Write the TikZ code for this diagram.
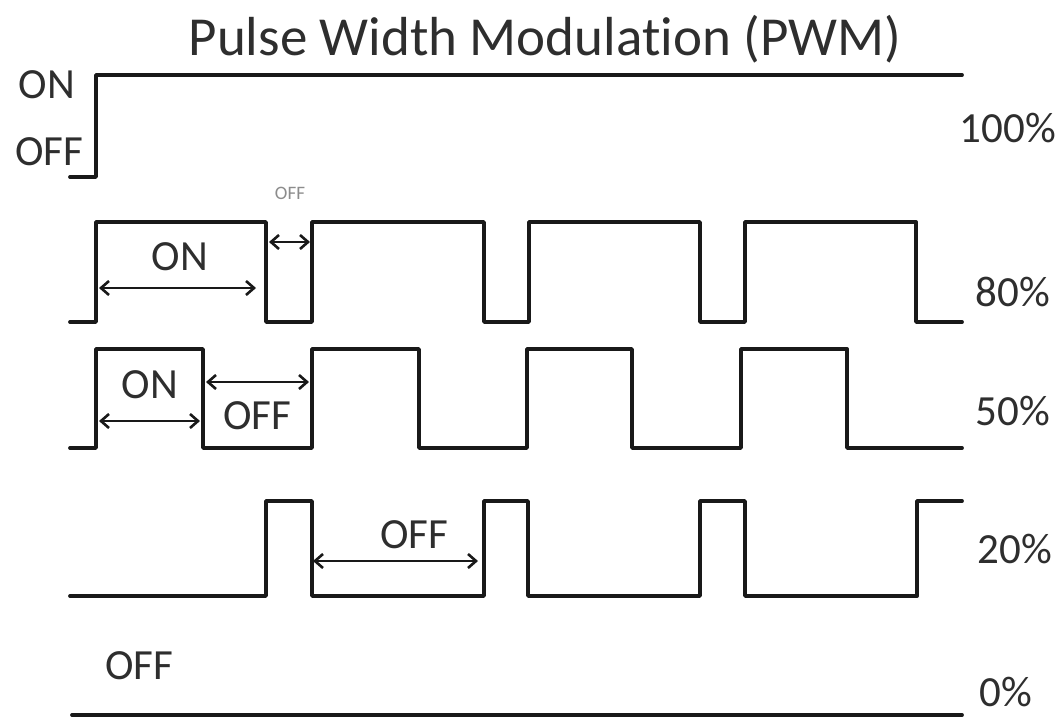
\documentclass[tikz,border=0pt]{standalone}
\usepackage{fontspec}
\setmainfont{Carlito}[Ligatures=NoCommon]
\usetikzlibrary{arrows.meta}
\begin{document}
\begin{tikzpicture}[x=1pt,y=-1pt,
  wave/.style={line width=3.8pt, line join=round, line cap=round, black!90},
  dim/.style={line width=2.6pt, black!90, {Straight Barb[length=8pt,width=14pt]}-{Straight Barb[length=8pt,width=14pt]}},
  lbl/.style={font=\fontsize{43}{46}\selectfont, text=black!82, inner sep=0pt},
  pct/.style={font=\fontsize{43}{46}\selectfont, text=black!82, inner sep=0pt},
  tiny/.style={font=\fontsize{19}{20}\selectfont, text=black!45, inner sep=0pt}]
\useasboundingbox (0,0) rectangle (1064,720);
\fill[white] (0,0) rectangle (1064,720);

\node[font=\fontsize{55}{60}\selectfont, text=black!82, inner sep=0pt, anchor=base] (title) at (545,55) {Pulse Width Modulation (PWM)};

% 100%
\node[lbl] (on1) at (47,85) {ON};
\node[lbl] (off1) at (49,152) {OFF};
\node[pct] (p100) at (1008,128) {100\%};
\draw[wave] (70,177) -- (96,177) -- (96,75) -- (962,75);

% 80%
\node[pct] (p80) at (1013,292) {80\%};
\draw[wave] (70,322) -- (96,322) -- (96,222) -- (266,222) -- (266,322) -- (312,322) -- (312,222)
  -- (484,222) -- (484,322) -- (529,322) -- (529,222) -- (700,222) -- (700,322) -- (745,322)
  -- (745,222) -- (916,222) -- (916,322) -- (962,322);
\coordinate (a1) at (99,288); \coordinate (a2) at (256,288);
\coordinate (b1) at (269,242); \coordinate (b2) at (310,242);
\draw[dim] (a1) -- (a2);
\draw[dim] (b1) -- (b2);
\node[lbl] (on80) at (180,257) {ON};
\node[tiny] (off80) at (290,193) {OFF};

% 50%
\node[pct] (p50) at (1013,411) {50\%};
\draw[wave] (70,448) -- (96,448) -- (96,349) -- (203,349) -- (203,448) -- (312,448) -- (312,349)
  -- (419,349) -- (419,448) -- (527,448) -- (527,349) -- (632,349) -- (632,448) -- (741,448)
  -- (741,349) -- (847,349) -- (847,448) -- (962,448);
\coordinate (c1) at (99,421); \coordinate (c2) at (200,421);
\coordinate (d1) at (206,382); \coordinate (d2) at (309,382);
\draw[dim] (c1) -- (c2);
\draw[dim] (d1) -- (d2);
\node[lbl] (on50) at (150,385) {ON};
\node[lbl] (off50) at (257,416) {OFF};

% 20%
\node[pct] (p20) at (1015,549) {20\%};
\draw[wave] (70,596) -- (266,596) -- (266,501) -- (312,501) -- (312,596) -- (484,596) -- (484,501)
  -- (528,501) -- (528,596) -- (700,596) -- (700,501) -- (745,501) -- (745,596) -- (917,596)
  -- (917,501) -- (962,501);
\coordinate (e1) at (313,561); \coordinate (e2) at (478,561);
\draw[dim] (e1) -- (e2);
\node[lbl] (off20) at (414,535) {OFF};

% 0%
\node[pct] (p0) at (1006,692) {0\%};
\node[lbl] (off0) at (139,666) {OFF};
\draw[wave] (72,715) -- (962,715);
\end{tikzpicture}
\end{document}
